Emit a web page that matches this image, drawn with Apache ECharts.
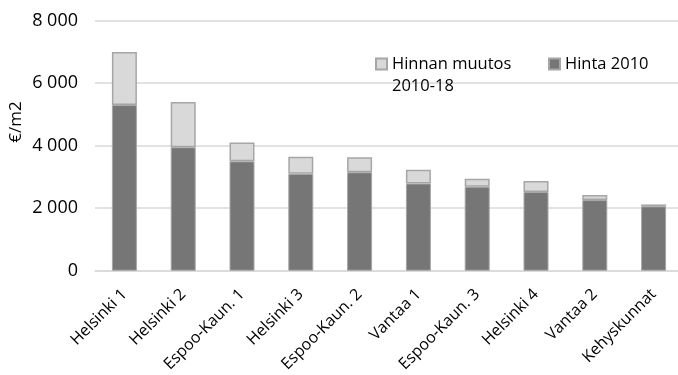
<!DOCTYPE html>
<html>
<head>
<meta charset="utf-8">
<script src="https://cdn.jsdelivr.net/npm/echarts@6/dist/echarts.min.js"></script>
<style>
  html, body { margin: 0; padding: 0; background: #fff; }
  #chart { width: 678px; height: 375px; }
</style>
</head>
<body>
<div id="chart"></div>
<script>
// Asuntojen neliöhinnat alueittain: hinta 2010 ja muutos 2010-18
const categories = ['Helsinki 1', 'Helsinki 2', 'Espoo-Kaun. 1', 'Helsinki 3', 'Espoo-Kaun. 2',
  'Vantaa 1', 'Espoo-Kaun. 3', 'Helsinki 4', 'Vantaa 2', 'Kehyskunnat'];
const hinta2010 = [5300, 3950, 3500, 3100, 3150, 2790, 2690, 2520, 2260, 2060];
const muutos = [1700, 1450, 600, 550, 480, 440, 250, 350, 160, 60];
const yTicks = [0, 2000, 4000, 6000, 8000];

const nameBase = 'Hinta 2010';
const nameChange = 'Hinnan muutos 2010-18';

const FONT = 'Open Sans';
const DARK = '#767676';
const LIGHT = '#d9d9d9';
const EDGE = '#a6a6a6';

const fmt = v => String(v).replace(/\B(?=(\d{3})+(?!\d))/g, ' ');

const chart = echarts.init(document.getElementById('chart'));
chart.setOption({
  animation: false,
  backgroundColor: '#fff',
  textStyle: { fontFamily: FONT },
  grid: { left: 95, top: 20.7, width: 588, height: 250, outerBoundsMode: 'none', containLabel: false },
  legend: [
    {
      data: [nameChange],
      left: 375, top: 31, padding: 0,
      itemWidth: 11, itemHeight: 11,
      icon: 'rect',
      // leading blank line keeps the first text line level with the swatch
      formatter: () => '\nHinnan muutos\n2010-18',
      textStyle: { fontFamily: FONT, fontSize: 16.5, color: '#000', lineHeight: 22 }
    },
    {
      data: [nameBase],
      left: 548, top: 53, padding: 0,
      itemWidth: 11, itemHeight: 11,
      icon: 'rect',
      textStyle: { fontFamily: FONT, fontSize: 16.5, color: '#000', lineHeight: 22 }
    }
  ],
  xAxis: {
    type: 'category',
    data: categories,
    axisLine: { lineStyle: { color: '#d9d9d9', width: 1.5 } },
    axisTick: { show: false },
    axisLabel: { rotate: 45, margin: 21, fontFamily: FONT, fontSize: 16, color: '#000', interval: 0 }
  },
  yAxis: {
    type: 'value',
    min: yTicks[0], max: yTicks[yTicks.length - 1], interval: 2000,
    axisLine: { show: false },
    axisTick: { show: false },
    splitLine: { lineStyle: { color: '#d9d9d9', width: 1.5 } },
    axisLabel: { margin: 17, fontFamily: FONT, fontSize: 18, color: '#000', formatter: fmt }
  },
  graphic: [{
    type: 'text',
    x: 16, y: 122,
    rotation: Math.PI / 2,
    style: { text: '€/m2', fontFamily: FONT, fontSize: 17, fill: '#000', align: 'center', verticalAlign: 'middle' }
  }],
  series: [
    {
      name: nameBase, type: 'bar', stack: 'hinta', barWidth: 25,
      data: hinta2010,
      itemStyle: { color: DARK, borderColor: EDGE, borderWidth: 1 }
    },
    {
      name: nameChange, type: 'bar', stack: 'hinta', barWidth: 25,
      data: muutos,
      itemStyle: { color: LIGHT, borderColor: EDGE, borderWidth: 1.5 }
    }
  ]
});
</script>
</body>
</html>
